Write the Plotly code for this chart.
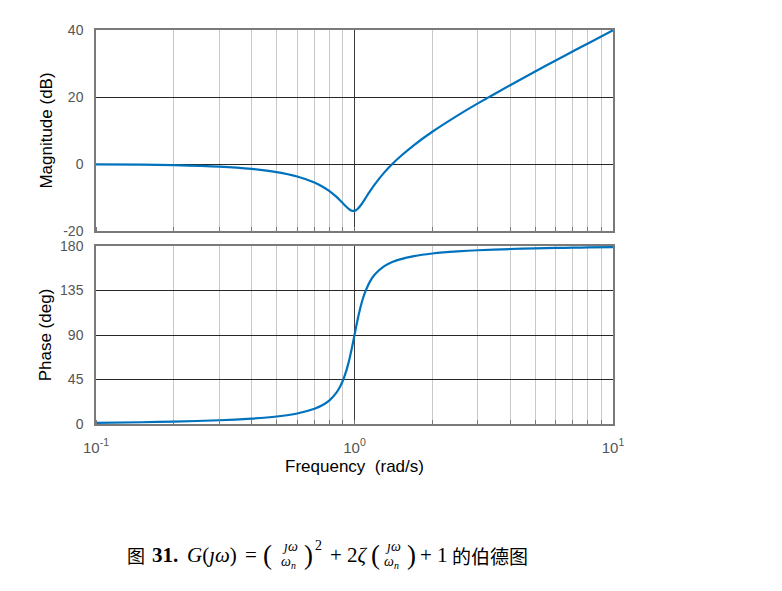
import plotly.graph_objects as go

# Frequency samples (rad/s) and values
freq = [0.1, 0.15, 0.2, 0.3, 0.4, 0.5, 0.6, 0.7, 0.75, 0.8, 0.85, 0.88, 0.9, 0.93, 0.95,
        0.96, 0.97, 0.98, 0.99, 1.0, 1.01, 1.02, 1.03, 1.05, 1.07, 1.1, 1.15, 1.2, 1.3,
        1.4, 1.5, 1.7, 2.0, 2.5, 3.0, 4.0, 5.0, 6.0, 7.0, 8.0, 10.0]
magnitude_db = [-0.09, -0.19, -0.35, -0.80, -1.48, -2.42, -3.73, -5.53, -6.70, -8.09, -9.75,
                -10.87, -11.64, -12.77, -13.41, -13.66, -13.86, -13.98, -14.02, -13.98,
                -13.85, -13.64, -13.36, -12.63, -11.75, -10.34, -8.04, -6.00, -2.65,
                0.00, 2.18, 5.67, 9.62, 14.44, 18.09, 23.53, 27.61, 30.89, 33.63, 35.99, 39.91]
phase_deg = [1.16, 1.76, 2.39, 3.77, 5.44, 7.59, 10.62, 15.35, 18.92, 23.96, 31.49,
             37.96, 43.45, 54.0, 62.83, 67.79, 73.06, 78.58, 84.26, 90.0, 95.68, 101.2,
             106.47, 116.0, 124.1, 133.67, 144.5, 151.4, 159.35, 163.74, 166.5, 169.8,
             172.4, 174.56, 175.7, 176.95, 177.6, 178.04, 178.33, 178.55, 178.84]

mag_ticks = [-20, 0, 20, 40]
phase_ticks = [0, 45, 90, 135, 180]
freq_ticks = [0.1, 1, 10]
freq_ticktext = ["10<sup>-1</sup>", "10<sup>0</sup>", "10<sup>1</sup>"]

LINE = "#0072BD"
W, H = 782, 591
L, R, T, B = 96, 613, 30, 424
SANS = "Liberation Sans, Arial"

fig = go.Figure()
fig.add_trace(go.Scatter(x=freq, y=magnitude_db, mode="lines", line=dict(color=LINE, width=2.2, shape="spline", smoothing=0.6),
                         xaxis="x", yaxis="y", showlegend=False, hoverinfo="skip"))
fig.add_trace(go.Scatter(x=freq, y=phase_deg, mode="lines", line=dict(color=LINE, width=2.2, shape="spline", smoothing=0.6),
                         xaxis="x2", yaxis="y2", showlegend=False, hoverinfo="skip"))

def py(p):
    return (B - p) / (B - T)

def px(p):
    return (p - L) / (R - L)

common_x = dict(type="log", range=[-1, 1], showgrid=True, gridcolor="#3c3c3c", gridwidth=1,
                showline=True, linecolor="#7a7a7a", linewidth=1.5, mirror=True,
                tickvals=freq_ticks, ticks="", zeroline=False,
                minor=dict(dtick="D1", showgrid=True, gridcolor="#c8c8c8", gridwidth=1,
                           ticks="inside", ticklen=4, tickcolor="#7a7a7a"),
                tickfont=dict(family=SANS, size=15, color="#555555"))
common_y = dict(showgrid=True, gridcolor="#262626", gridwidth=1, showline=True, linecolor="#7a7a7a",
                linewidth=1.5, mirror=True, ticks="", zeroline=False, ticklabelstandoff=8,
                tickfont=dict(family=SANS, size=14, color="#555555"))

fig.update_layout(
    width=W, height=H,
    margin=dict(l=L, r=W - R, t=T, b=H - B, pad=0),
    paper_bgcolor="white", plot_bgcolor="white",
    xaxis=dict(common_x, anchor="y", showticklabels=False, domain=[0, 1]),
    yaxis=dict(common_y, domain=[py(231), 1], range=[-20, 40], tickvals=mag_ticks,
               ticktext=[str(v) for v in mag_ticks],
               title=dict(text="Magnitude (dB)", standoff=6,
                          font=dict(family=SANS, size=17, color="black"))),
    xaxis2=dict(common_x, anchor="y2", domain=[0, 1], ticktext=freq_ticktext, ticklabelstandoff=9,
                title=dict(text="Frequency  (rad/s)", standoff=5,
                           font=dict(family=SANS, size=17, color="black"))),
    yaxis2=dict(common_y, domain=[0, py(246)], range=[0, 180], tickvals=phase_ticks,
                ticktext=[str(v) for v in phase_ticks],
                title=dict(text="Phase (deg)", standoff=4,
                           font=dict(family=SANS, size=17, color="black"))),
)

SERIF = "Liberation Serif, DejaVu Serif, serif"
CJK = "Noto Sans CJK SC"
pieces = [
    ("图", 125, 555, CJK, 18),
    ("<b>31.</b>", 150, 555, SERIF, 21),
    ("<i>G</i>(<i>ȷω</i>)", 185, 555, SERIF, 21),
    ("=", 243, 555, SERIF, 21),
    ("(", 261, 555, SERIF, 27),
    ("<i>ȷω</i>", 280, 546, SERIF, 14),
    ("<i>ω<sub>n</sub></i>", 279, 562, SERIF, 14),
    (")", 302, 555, SERIF, 27),
    ("2", 313, 545, SERIF, 14),
    ("+ 2<i>ζ</i>", 328, 555, SERIF, 21),
    ("(", 369, 555, SERIF, 27),
    ("<i>ȷω</i>", 383, 546, SERIF, 14),
    ("<i>ω<sub>n</sub></i>", 382, 562, SERIF, 14),
    (")", 405, 555, SERIF, 27),
    ("+ 1", 418, 555, SERIF, 21),
    ("的伯德图", 450, 555, CJK, 19),
]
for txt, x0, y0, fam, sz in pieces:
    fig.add_annotation(text=txt, xref="paper", yref="paper", x=px(x0), y=py(y0),
                       xanchor="left", yanchor="middle", showarrow=False,
                       font=dict(family=fam, size=sz, color="black"))

fig.write_html("out.html")
